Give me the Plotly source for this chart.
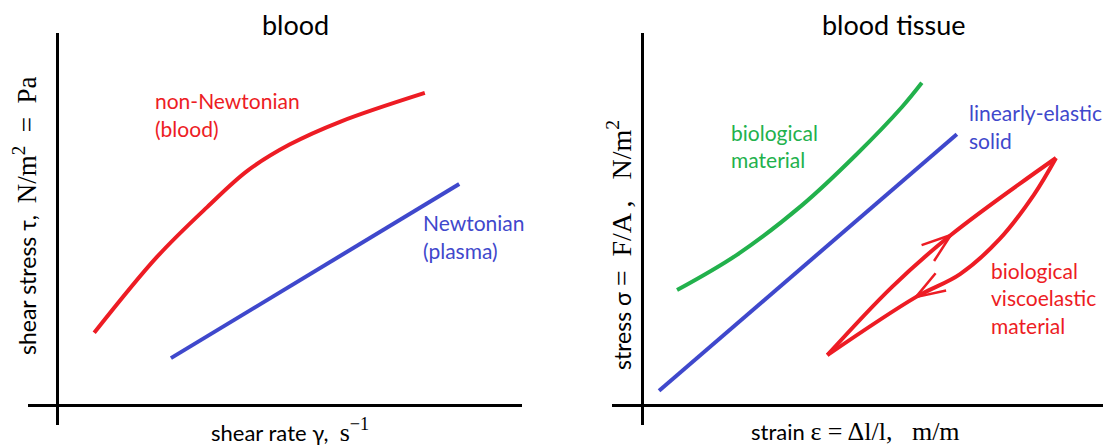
import numpy as np
import plotly.graph_objects as go

W, H = 1110, 448

RED = "#ED1C24"
BLUE = "#3F48CC"
GREEN = "#22B14C"
SANS = "Lato"
SERIF = "Liberation Serif"

# ---- blood: shear stress vs shear rate (arbitrary units, 0..10) ----
blood_rate = [0.80, 2.15, 3.23, 4.10, 5.00, 6.10, 7.91]
blood_stress = [1.94, 3.98, 5.32, 6.30, 7.00, 7.62, 8.39]
plasma_rate = [2.45, 8.65]
plasma_stress = [1.26, 5.94]

# ---- blood tissue: stress vs strain (arbitrary units, 0..10) ----
bio_strain = [0.76, 2.05, 3.48, 4.64, 5.64, 6.07]
bio_stress = [3.09, 4.03, 5.38, 6.72, 8.01, 8.66]
elastic_strain = [0.37, 6.83]
elastic_stress = [0.38, 7.28]
# hysteresis loop: loading branch, then unloading branch
load_strain = [4.02, 5.42, 6.70, 8.98]
load_stress = [1.34, 3.17, 4.57, 6.64]
unload_strain = [8.98, 8.50, 7.75, 6.90, 5.94, 4.02]
unload_stress = [6.64, 5.65, 4.45, 3.52, 2.90, 1.34]
LOAD_ARROW_AT = 2
UNLOAD_ARROW_AT = 4

XMAX, YMAX = 10.0, 10.0

# pixel frames of the two panels: x extent, y-axis position, y extent, x-axis position
PANELS = {
    "left": dict(x0=28, x1=522, ox=57, top=33, bottom=425, oy=405),
    "right": dict(x0=612, x1=1103, ox=642, top=33, bottom=425, oy=405),
}


def axis_setup(p):
    sx = (p["x1"] - p["ox"]) / XMAX
    sy = (p["oy"] - p["top"]) / YMAX
    xr = [-(p["ox"] - p["x0"]) / sx, XMAX]
    yr = [-(p["bottom"] - p["oy"]) / sy, YMAX]
    xdom = [p["x0"] / W, p["x1"] / W]
    ydom = [1 - p["bottom"] / H, 1 - p["top"] / H]
    return sx, sy, xr, yr, xdom, ydom


def arrow_barbs(xs, ys, i, sx, sy, length=31, half_angle=19):
    """Open arrowhead at point i of a path, pointing along the travel direction."""
    dx = (xs[i + 1] - xs[i - 1]) * sx
    dy = (ys[i + 1] - ys[i - 1]) * sy
    back = np.arctan2(dy, dx) + np.pi
    bx, by = [], []
    for s in (1, -1):
        a = back + s * np.radians(half_angle)
        bx.append(xs[i] + length * np.cos(a) / sx)
        by.append(ys[i] + length * np.sin(a) / sy)
    return [bx[0], xs[i], bx[1]], [by[0], ys[i], by[1]]


fig = go.Figure()

sxL, syL, xrL, yrL, xdL, ydL = axis_setup(PANELS["left"])
sxR, syR, xrR, yrR, xdR, ydR = axis_setup(PANELS["right"])


def curve(x, y, color, axes, width=4, shape="spline"):
    fig.add_trace(go.Scatter(
        x=x, y=y, mode="lines", xaxis=axes[0], yaxis=axes[1],
        line=dict(color=color, width=width, shape=shape, smoothing=1.0),
        hoverinfo="skip", showlegend=False))


curve(blood_rate, blood_stress, RED, ("x", "y"))
curve(plasma_rate, plasma_stress, BLUE, ("x", "y"), shape="linear")

curve(bio_strain, bio_stress, GREEN, ("x2", "y2"))
curve(elastic_strain, elastic_stress, BLUE, ("x2", "y2"), shape="linear")
curve(load_strain, load_stress, RED, ("x2", "y2"))
curve(unload_strain, unload_stress, RED, ("x2", "y2"))

ax_, ay_ = arrow_barbs(load_strain, load_stress, LOAD_ARROW_AT, sxR, syR)
curve(ax_, ay_, RED, ("x2", "y2"), width=2.5, shape="linear")
ax_, ay_ = arrow_barbs(unload_strain, unload_stress, UNLOAD_ARROW_AT, sxR, syR)
curve(ax_, ay_, RED, ("x2", "y2"), width=2.5, shape="linear")

axis_common = dict(showgrid=False, showticklabels=False, ticks="", showline=False,
                   zeroline=True, zerolinecolor="black", zerolinewidth=2.5, fixedrange=True)

fig.update_layout(
    width=W, height=H,
    margin=dict(l=0, r=0, t=0, b=0),
    paper_bgcolor="white", plot_bgcolor="white",
    xaxis=dict(domain=xdL, range=xrL, anchor="y", **axis_common),
    yaxis=dict(domain=ydL, range=yrL, anchor="x", **axis_common),
    xaxis2=dict(domain=xdR, range=xrR, anchor="y2", **axis_common),
    yaxis2=dict(domain=ydR, range=yrR, anchor="x2", **axis_common),
    font=dict(family=SANS, color="black"),
)


def text_at(px, py, text, size, color="black", xanchor="left", angle=0):
    fig.add_annotation(x=px / W, y=1 - py / H, xref="paper", yref="paper",
                       text=text, showarrow=False, xanchor=xanchor, yanchor="middle",
                       textangle=angle, font=dict(family=SANS, size=size, color=color))


def serif(s, size=26):
    return f"<span style=\"font-family:'{SERIF}';font-size:{size}px\">{s}</span>"


# panel titles
text_at(295, 24, "blood", 27, xanchor="center")
text_at(893, 24, "blood tissue", 27, xanchor="center")

# axis titles
AX = 22
text_at(290, 430, "shear rate γ,  " + serif("s<sup>−1</sup>"), AX, xanchor="center")
text_at(855, 431, "strain " + serif("ε = Δl/l,   m/m"), AX, xanchor="center")
text_at(25, 216, "shear stress τ,  " + serif("N/m<sup>2</sup>  =  Pa", 27), 23,
        xanchor="center", angle=-90)
text_at(619, 245, "stress σ " + serif("=  F/A ,   N/m<sup>2</sup>", 28), 23,
        xanchor="center", angle=-90)

# curve labels
LS = 21
text_at(153, 100, "non-Newtonian", LS, RED)
text_at(153, 128, "(blood)", LS, RED)
text_at(421, 222, "Newtonian", LS, BLUE)
text_at(421, 250, "(plasma)", LS, BLUE)
text_at(729, 132, "biological", LS, GREEN)
text_at(729, 159, "material", LS, GREEN)
text_at(967, 113, "linearly-elastic", LS, BLUE)
text_at(967, 140, "solid", LS, BLUE)
text_at(989, 270, "biological", LS, RED)
text_at(989, 297, "viscoelastic", LS, RED)
text_at(989, 325, "material", LS, RED)

fig.write_html("out.html")
